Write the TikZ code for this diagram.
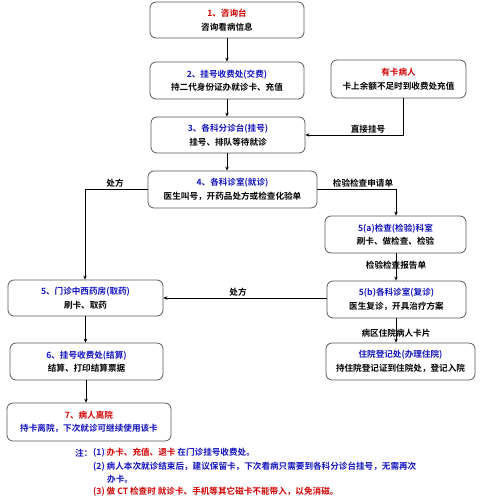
\documentclass[tikz,border=0pt]{standalone}
\usepackage{fontspec}
\setmainfont{Noto Sans CJK SC}[BoldFont={* Bold}]
\usetikzlibrary{arrows.meta}
\definecolor{tblue}{RGB}{20,20,190}
\definecolor{tred}{RGB}{210,0,0}
\definecolor{bord}{RGB}{90,90,90}
\begin{document}
\begin{tikzpicture}[x=1pt,y=-1pt,
  box/.style={draw=bord,line width=0.8pt,rounded corners=6pt,fill=white,align=center,
    font=\fontsize{8.6}{13.5}\selectfont\bfseries,inner sep=1pt},
  arr/.style={line width=0.7pt,-{Stealth[length=4pt,width=3.5pt]}},
  ln/.style={line width=0.7pt},
  lab/.style={font=\fontsize{8.6}{10}\selectfont\bfseries,inner sep=0pt},
  note/.style={font=\fontsize{8.6}{10}\selectfont\bfseries,inner sep=0pt,anchor=west}]
\useasboundingbox (0,0) rectangle (500,499);
\fill[white] (0,0) rectangle (500,499);
% boxes
\node[box,minimum width=154pt,minimum height=36pt] (b1) at (227,20) {\textcolor{tred}{1、咨询台}\\咨询看病信息};
\node[box,minimum width=154pt,minimum height=37pt] (b2) at (227,80.5) {\textcolor{tblue}{2、挂号收费处(交费)}\\持二代身份证办就诊卡、充值};
\node[box,minimum width=154pt,minimum height=36pt] (b3) at (228,135) {\textcolor{tblue}{3、各科分诊台(挂号)}\\挂号、排队等待就诊};
\node[box,minimum width=169pt,minimum height=37pt] (b4) at (232.5,189.5) {\textcolor{tblue}{4、各科诊室(就诊)}\\医生叫号，开药品处方或检查化验单};
\node[box,minimum width=135pt,minimum height=38pt] (card) at (398.5,79) {\textcolor{tred}{有卡病人}\\卡上余额不足时到收费处充值};
\node[box,minimum width=141pt,minimum height=37pt] (b5a) at (395.5,234.5) {\textcolor{tblue}{5(a)检查(检验)科室}\\刷卡、做检查、检验};
\node[box,minimum width=139pt,minimum height=37pt] (b5b) at (396.5,299.5) {\textcolor{tblue}{5(b)各科诊室(复诊)}\\医生复诊，开具治疗方案};
\node[box,minimum width=149pt,minimum height=37pt] (bz) at (400.5,361.5) {\textcolor{tblue}{住院登记处(办理住院)}\\持住院登记证到住院处，登记入院};
\node[box,minimum width=155pt,minimum height=36pt] (b5) at (85.5,298) {\textcolor{tblue}{5、门诊中西药房(取药)}\\刷卡、取药};
\node[box,minimum width=153pt,minimum height=37pt] (b6) at (86.5,361.5) {\textcolor{tblue}{6、挂号收费处(结算)}\\结算、打印结算票据};
\node[box,minimum width=164pt,minimum height=38pt] (b7) at (89,422) {\textcolor{tred}{7、病人离院}\\\textcolor{tblue}{持卡离院，下次就诊可继续使用该卡}};
% coordinates
\coordinate (c1) at (403,135);
\coordinate (c2) at (85,189.5);
\coordinate (c3) at (396,189.5);
% connectors
\draw[arr] (b1.south -| 227,0) -- (b2.north -| 227,0);
\draw[arr] (b2.south -| 227,0) -- (b3.north -| 227,0);
\draw[arr] (b3.south -| 227,0) -- (b4.north -| 227,0);
\draw[arr] (card.south -| c1) -- (c1) -- (b3.east |- c1);
\draw[arr] (b4.west) -- (c2) -- (b5.north -| c2);
\draw[arr] (b4.east) -- (c3) -- (b5a.north -| c3);
\draw[arr] (b5a.south -| c3) -- (b5b.north -| c3);
\draw[arr] (b5b.west |- 0,298) -- (b5.east);
\draw[arr] (b5b.south -| c3) -- (bz.north -| c3);
\draw[arr] (b5.south) -- (b6.north -| b5.south);
\draw[arr] (b6.south -| 86,0) -- (b7.north -| 86,0);
% labels
\node[lab] (l1) at (368,129) {直接挂号};
\node[lab] (l2) at (115,183.5) {处方};
\node[lab] (l3) at (363,183.5) {检验检查申请单};
\node[lab] (l4) at (396,265) {检验检查报告单};
\node[lab] (l5) at (238,292) {处方};
\node[lab] (l6) at (396,333) {病区住院病人卡片};
% notes
\node[note,text=tblue] (n0) at (75,453) {注：};
\node[note,text=tblue] (n1) at (93,453) {(1)~\textcolor{tred}{办卡、充值、退卡} 在门诊挂号收费处。};
\node[note,text=tblue] (n2) at (93,467) {(2) 病人本次就诊结束后，建议保留卡，下次看病只需要到各科分诊台挂号，无需再次};
\node[note,text=tblue] (n3) at (107,479.5) {办卡。};
\node[note,text=tred] (n4) at (93,492) {(3) 做 CT 检查时 就诊卡、手机等其它磁卡不能带入，以免消磁。};
\end{tikzpicture}
\end{document}
